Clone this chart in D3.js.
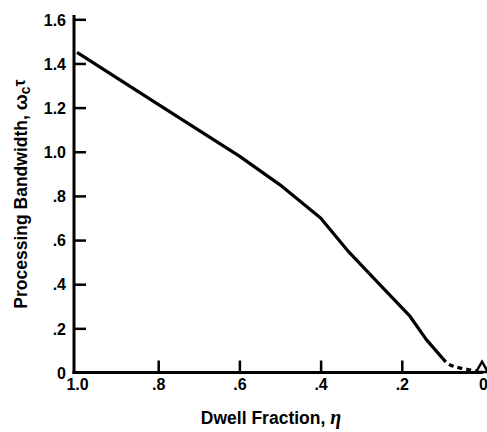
<!DOCTYPE html>
<html>
<head>
<meta charset="utf-8">
<script src="https://cdn.jsdelivr.net/npm/d3@7"></script>
<style>
  html, body { margin: 0; padding: 0; background: #fff; }
  svg { display: block; }
  text { font-family: "Liberation Sans", Arial, sans-serif; font-weight: bold; fill: #000; }
</style>
</head>
<body>
<svg id="chart" width="487" height="432"></svg>
<script>
// ---- data ----
const dwellFraction = [1.0, 0.8, 0.6, 0.5, 0.4, 0.33, 0.25, 0.18, 0.14, 0.10];
const bandwidth     = [1.45, 1.215, 0.98, 0.85, 0.70, 0.545, 0.39, 0.255, 0.15, 0.065];
const dashedDwell   = [0.10, 0.089, 0.06, 0.028, 0.0];
const dashedBand    = [0.065, 0.044, 0.022, 0.011, 0.0];
const endMarkerDwell = [0.0];
const endMarkerBand  = [0.0];
const xTickValues = [1.0, 0.8, 0.6, 0.4, 0.2, 0.0];
const xTickLabels = ["1.0", ".8", ".6", ".4", ".2", "0"];
const yTickValues = [0, 0.2, 0.4, 0.6, 0.8, 1.0, 1.2, 1.4, 1.6];
const yTickLabels = ["0", ".2", ".4", ".6", ".8", "1.0", "1.2", "1.4", "1.6"];

const svg = d3.select("#chart");
const x = d3.scaleLinear().domain([1.0, 0.0]).range([77, 483]);
const y = d3.scaleLinear().domain([0, 1.6]).range([372.5, 19.3]);
const axisX = 74;

// axes
const xAxis = d3.axisBottom(x)
  .tickValues(xTickValues)
  .tickFormat((d, i) => xTickLabels[i])
  .tickSizeInner(-12).tickSizeOuter(0).tickPadding(6);
const yAxis = d3.axisLeft(y)
  .tickValues(yTickValues)
  .tickFormat((d, i) => yTickLabels[i])
  .tickSizeInner(-12).tickSizeOuter(0).tickPadding(8);

const gx = svg.append("g").attr("transform", `translate(0,${y(0)})`).call(xAxis);
const gy = svg.append("g").attr("transform", `translate(${axisX},0)`).call(yAxis);

[gx, gy].forEach(g => {
  g.select(".domain").remove();
  g.selectAll(".tick line").attr("stroke", "#000").attr("stroke-width", 2.5);
  g.selectAll(".tick text").style("font-size", "16px").style("font-family", '"Liberation Sans", Arial, sans-serif').style("font-weight", "bold").attr("fill", "#000");
});
// hide ticks at the corner / end
gx.selectAll(".tick").filter(d => d === 1.0 || d === 0).select("line").remove();
gy.selectAll(".tick").filter(d => d === 0).select("line").remove();
gy.selectAll(".tick text").attr("dy", "0.36em");
gx.selectAll(".tick text").attr("dy", "0.71em");

// axis lines
svg.append("line").attr("x1", axisX).attr("x2", axisX)
  .attr("y1", y(0) + 1.5).attr("y2", 15).attr("stroke", "#000").attr("stroke-width", 3);
svg.append("line").attr("x1", axisX - 1.5).attr("x2", x(0))
  .attr("y1", y(0)).attr("y2", y(0)).attr("stroke", "#000").attr("stroke-width", 3);

// curve
const solid = dwellFraction.map((d, i) => [d, bandwidth[i]]);
const dashed = dashedDwell.map((d, i) => [d, dashedBand[i]]);
const line = d3.line().x(d => x(d[0])).y(d => y(d[1]));
svg.append("path").datum(solid).attr("d", line)
  .attr("fill", "none").attr("stroke", "#000").attr("stroke-width", 3.2)
  .attr("stroke-linejoin", "round");
svg.append("path").datum(dashed).attr("d", d3.line().x(d => x(d[0])).y(d => y(d[1])).curve(d3.curveMonotoneX))
  .attr("fill", "none").attr("stroke", "#000").attr("stroke-width", 3.2)
  .attr("stroke-dasharray", "5,4");

// end marker triangle
svg.selectAll("path.marker").data(endMarkerDwell).enter().append("path")
  .attr("class", "marker")
  .attr("d", d3.symbol().type(d3.symbolTriangle).size(60))
  .attr("transform", (d, i) => `translate(${x(d) - 1},${y(endMarkerBand[i]) - 4})`)
  .attr("fill", "#fff").attr("stroke", "#000").attr("stroke-width", 2.5);

// axis titles
const xt = svg.append("text").attr("x", 271).attr("y", 424).attr("text-anchor", "middle")
  .style("font-size", "17.5px");
xt.append("tspan").text("Dwell Fraction, ");
xt.append("tspan").text("η").style("font-family", '"Liberation Serif", "Times New Roman", serif')
  .style("font-style", "italic").style("font-size", "20px");

const yt = svg.append("text").attr("transform", "translate(27,194) rotate(-90)")
  .attr("text-anchor", "middle").style("font-size", "17.5px");
yt.append("tspan").text("Processing Bandwidth, ");
yt.append("tspan").text("ω").style("font-size", "19px");
yt.append("tspan").text("c").attr("dy", "3").style("font-size", "14px");
yt.append("tspan").text("τ").attr("dy", "-5").style("font-size", "16px");
</script>
</body>
</html>
